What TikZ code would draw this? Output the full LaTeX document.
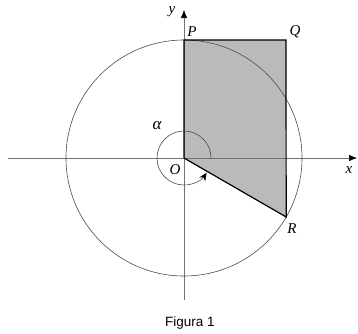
\documentclass[tikz,border=0pt]{standalone}
\usepackage{fontspec}
\setmainfont{Liberation Serif}
\newfontfamily\capfont{Liberation Sans}
\usetikzlibrary{arrows.meta}
\begin{document}
\begin{tikzpicture}[x=1pt,y=1pt,
  axis/.style={draw=black!55, line width=0.6pt},
  circ/.style={draw=black!70, line width=0.6pt},
  edge/.style={draw=black, line width=1.2pt},
  lbl/.style={font=\fontsize{15}{15}\selectfont\itshape, inner sep=0pt},
  figcap/.style={font=\capfont\fontsize{13.5}{13.5}\selectfont, inner sep=0pt}]
\useasboundingbox (-184,-175) rectangle (174,158);
\coordinate (O) at (0,0);
\coordinate (P) at (0,118);
\coordinate (Q) at (102,118);
\coordinate (R) at (-30:118);
\coordinate (xs) at (-176,0);
\coordinate (xe) at (173,0);
\coordinate (ys) at (0,-142);
\coordinate (ye) at (0,148);
\fill[black!27] (O) -- (P) -- (Q) -- (R) -- cycle;
\draw[axis, -{Latex[length=8pt,width=6.5pt,color=black]}] (xs) -- (xe);
\draw[axis, -{Latex[length=8pt,width=6.5pt,color=black]}] (ys) -- (ye);
\draw[circ] (O) circle (118);
\draw[edge, line join=miter] (O) -- (P) -- (Q) -- (R) -- cycle;
\draw[circ, -{Stealth[length=8pt,width=7pt,color=black]}] (27,0) arc (0:327:27);
\node[lbl] (Pl) at (8,126) {P};
\node[lbl] (Ql) at (111,126) {Q};
\node[lbl] (Rl) at (108,-71) {R};
\node[lbl] (Ol) at (-9,-12) {O};
\node[lbl, font=\fontsize{17}{17}\selectfont\itshape] (al) at (-27,32) {α};
\node[lbl] (xl) at (165,-12) {x};
\node[lbl] (yl) at (-12,146) {y};
\node[figcap] (fig) at (6,-165) {Figura 1};
\end{tikzpicture}
\end{document}
